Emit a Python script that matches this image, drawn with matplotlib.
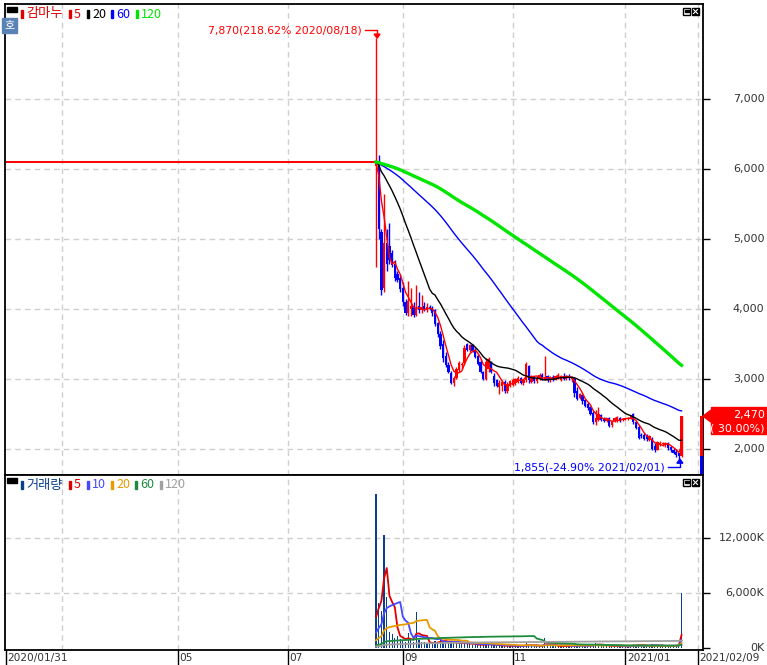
import numpy as np
import pandas as pd
import matplotlib
matplotlib.use("Agg")
import matplotlib.pyplot as plt
from matplotlib import font_manager
from matplotlib.patches import Rectangle, Polygon
from matplotlib.transforms import Affine2D, offset_copy
from matplotlib.lines import Line2D

# ---------------- data ----------------
stock_name = "감마누"
pre_days = 138            # trading days shown before listing (flat line)
pre_price = 6100          # flat price drawn before listing
opens = [6050, 6080, 5100, 4300, 4950, 4900, 4800, 4650, 4500, 4450,
         4300, 4100, 3950, 4000, 4050, 3920, 4050, 3980, 4050, 3990,
         4030, 4020, 3980, 3800, 3650, 3500, 3330, 3200, 3090, 2940,
         3020, 3130, 3200, 3230, 3500, 3420, 3480, 3420, 3330, 3250,
         3100, 3000, 3150, 3250, 3050, 2980, 2880, 2900, 2960, 2830,
         2900, 2920, 2950, 2960, 3010, 2950, 2980, 3180, 2960, 3030,
         2970, 3000, 3060, 2990, 3040, 2980, 3030, 2990, 3020, 2990,
         3050, 3000, 3050, 3000, 3020, 2830, 2730, 2770, 2700, 2650,
         2600, 2520, 2380, 2420, 2490, 2430, 2400, 2440, 2340, 2400,
         2400, 2450, 2410, 2420, 2430, 2440, 2500, 2380, 2320, 2200,
         2200, 2180, 2130, 2150, 2050, 1990, 2060, 2070, 2060, 2090,
         2030, 1990, 1960, 1940, 1900]
highs = [7870, 6200, 5150, 5650, 5150, 5230, 4850, 4700, 4550, 4500,
         4380, 4150, 4400, 4300, 4100, 4350, 4250, 4200, 4100, 4080,
         4060, 4050, 4000, 3820, 3680, 3560, 3380, 3250, 3120, 3050,
         3170, 3260, 3250, 3480, 3520, 3500, 3500, 3450, 3360, 3280,
         3120, 3300, 3320, 3260, 3080, 3000, 2980, 2990, 2980, 2960,
         2990, 3010, 3020, 3040, 3030, 3000, 3250, 3200, 3060, 3050,
         3040, 3080, 3080, 3330, 3060, 3050, 3060, 3060, 3080, 3060,
         3080, 3060, 3070, 3050, 3030, 2880, 2800, 2790, 2720, 2670,
         2620, 2540, 2560, 2600, 2500, 2460, 2450, 2460, 2420, 2460,
         2470, 2460, 2440, 2450, 2460, 2480, 2520, 2400, 2340, 2230,
         2230, 2210, 2200, 2170, 2080, 2120, 2110, 2100, 2100, 2100,
         2040, 2020, 2000, 1950, 2470]
lows = [4600, 5000, 4200, 4250, 4550, 4650, 4600, 4400, 4380, 4250,
        4050, 3920, 3900, 3900, 3880, 3900, 3950, 3950, 3970, 3960,
        3980, 3900, 3760, 3600, 3430, 3250, 3170, 3080, 2930, 2900,
        3000, 3100, 3150, 3200, 3400, 3380, 3380, 3300, 3200, 3080,
        2980, 2990, 3100, 3080, 2900, 2880, 2780, 2830, 2800, 2800,
        2880, 2900, 2920, 2940, 2930, 2920, 2960, 2950, 2940, 2950,
        2950, 2980, 2980, 2980, 2960, 2960, 2970, 2980, 3000, 2970,
        2980, 2980, 2990, 2960, 2750, 2700, 2710, 2650, 2600, 2560,
        2480, 2360, 2350, 2400, 2400, 2380, 2390, 2310, 2320, 2380,
        2390, 2390, 2400, 2410, 2420, 2430, 2360, 2280, 2140, 2160,
        2130, 2120, 2120, 1980, 1960, 1980, 2040, 2050, 2030, 1990,
        1960, 1930, 1890, 1855, 1890]
closes = [6110, 5150, 4270, 4950, 4650, 4700, 4630, 4450, 4420, 4280,
          4100, 3950, 4120, 4050, 3920, 4010, 3980, 4030, 4000, 4030,
          4000, 3950, 3780, 3650, 3470, 3300, 3200, 3100, 2950, 3020,
          3150, 3230, 3220, 3450, 3420, 3480, 3400, 3320, 3220, 3100,
          3000, 3250, 3280, 3100, 2950, 2900, 2950, 2960, 2830, 2930,
          2970, 2990, 3000, 3010, 2950, 2990, 3220, 2980, 3030, 2970,
          3020, 3060, 3000, 3030, 2980, 3030, 2990, 3050, 3060, 3040,
          3000, 3050, 3010, 3030, 2800, 2720, 2780, 2680, 2620, 2580,
          2500, 2380, 2450, 2500, 2420, 2400, 2430, 2330, 2400, 2440,
          2460, 2410, 2430, 2440, 2450, 2470, 2380, 2300, 2160, 2180,
          2150, 2140, 2180, 2000, 1980, 2100, 2090, 2080, 2090, 2010,
          1980, 1950, 1910, 1900, 2470]
volumes_k = [16800, 4900, 4000, 12300, 5600, 1700, 1500, 1100, 1300, 1000,
             800, 600, 1600, 900, 700, 3900, 900, 700, 600, 500,
             450, 500, 800, 700, 900, 800, 600, 500, 700, 600,
             500, 450, 400, 700, 500, 400, 350, 300, 350, 400,
             350, 500, 400, 300, 300, 250, 300, 250, 200, 250,
             200, 250, 200, 200, 250, 200, 600, 300, 200, 200,
             200, 250, 200, 1100, 300, 200, 200, 200, 250, 200,
             200, 200, 200, 200, 400, 300, 200, 250, 250, 250,
             300, 400, 500, 400, 250, 200, 250, 250, 200, 200,
             200, 200, 150, 150, 200, 200, 400, 350, 400, 250,
             200, 200, 200, 400, 300, 250, 200, 200, 150, 250,
             250, 200, 300, 400, 6000]
price_ma_windows = [5, 20, 60, 120]
price_ma_colors = ["#ff0000", "#000000", "#0000ff", "#00e600"]
vol_ma_windows = [5, 10, 20, 60, 120]
vol_ma_colors = ["#e00000", "#4848ff", "#e89a00", "#1e8c3c", "#a0a0a0"]
price_ticks = [2000, 3000, 4000, 5000, 6000, 7000]
vol_ticks = [0, 6000, 12000]
x_tick_pos = [0, 64, 105, 148, 189, 231, 258]
x_tick_labels = ["2020/01/31", "05", "07", "09", "11", "2021/01", "2021/02/09"]
x_grid_pos = [21, 64, 105, 148, 189, 231, 258]
current_price = 2470
current_change = "( 30.00%)"
prev_close = 1900
high_label = "7,870(218.62% 2020/08/18)"
low_label = "1,855(-24.90% 2021/02/01)"

# ---------------- fonts ----------------
NUM = "DejaVu Sans"
KR = ["Noto Sans CJK KR", "DejaVu Sans"]

W, H = 767, 665
fig = plt.figure(figsize=(W / 100, H / 100), dpi=100)
pix = Affine2D().scale(1, -1).translate(0, H).scale(1 / W, 1 / H) + fig.transFigure

L, R = 5, 703
TOP, MID, BOT = 4, 475, 650
axp = fig.add_axes([L / W, 1 - MID / H, (R - L) / W, (MID - TOP) / H])
axv = fig.add_axes([L / W, 1 - BOT / H, (R - L) / W, (BOT - MID) / H], sharex=axp)

n = len(closes)
idx = np.arange(pre_days, pre_days + n)
close_full = pd.Series(np.concatenate([np.full(pre_days, pre_price), closes]))
vol_full = pd.Series(np.concatenate([np.zeros(pre_days), volumes_k]))

grid_kw = dict(color="#cfcfcf", lw=1, ls=(0, (4, 3)), zorder=0)
for ax in (axp, axv):
    for g in x_grid_pos:
        ax.axvline(g, **grid_kw)
for t in price_ticks:
    axp.axhline(t, **grid_kw)
for t in vol_ticks[1:]:
    axv.axhline(t, **grid_kw)

# flat pre-listing line
axp.plot([0, pre_days], [pre_price, pre_price], color="#ff0000", lw=1.4, zorder=2)

# candles
o = np.array(opens); h = np.array(highs); lo = np.array(lows); c = np.array(closes)
up = c >= o
cols = np.where(up, "#ff0000", "#0000ff")
axp.vlines(idx, lo, h, colors=cols, lw=1.0, zorder=3)
body_bot = np.minimum(o, c)
body_h = np.maximum(np.abs(c - o), 12)
axp.bar(idx, body_h, bottom=body_bot, width=0.85, color=cols, linewidth=0, zorder=3)

# price moving averages
for w, col in zip(price_ma_windows, price_ma_colors):
    ma = close_full.rolling(w, min_periods=1).mean().values[pre_days:]
    axp.plot(idx, ma, color=col, lw=2.4 if w == 120 else 1.0, zorder=4)

# current-price bar on the right edge
xbar = 259.5
axp.bar([xbar], [current_price - prev_close], bottom=prev_close, width=1.1,
        color="#ff0000", linewidth=0, zorder=5, clip_on=False)
axp.bar([xbar], [prev_close - 1500], bottom=1500, width=1.1,
        color="#0000ff", linewidth=0, zorder=5)

axp.set_xlim(-0.45, 260.0)
axp.set_ylim(1629, 8357)

# volume
axv.bar(idx, volumes_k, width=0.45, color="#0a3f8c", linewidth=0, zorder=3)
for w, col in zip(vol_ma_windows, vol_ma_colors):
    ma = vol_full.rolling(w, min_periods=1).mean().values[pre_days:]
    axv.plot(idx, ma, color=col, lw=1.3, zorder=4)
axv.set_ylim(-220, 18870)

# spines / ticks
for ax in (axp, axv):
    for s in ax.spines.values():
        s.set_linewidth(1.3)
        s.set_color("black")
    ax.yaxis.tick_right()
    ax.tick_params(axis="y", length=5, width=1, direction="out", labelright=False, labelleft=False)
axp.set_yticks(price_ticks)
axv.set_yticks(vol_ticks)
axp.tick_params(axis="x", length=0, labelbottom=False)
axv.set_xticks(x_tick_pos)
axv.tick_params(axis="x", length=14, width=1, direction="out", labelbottom=False)

tick_col = "#333333"
for t in price_ticks:
    axp.text(1.088, t, f"{t:,}", transform=axp.get_yaxis_transform(), ha="right",
             va="center", fontsize=8, color=tick_col, family=NUM)
for t in vol_ticks:
    axv.text(1.088, t, f"{t:,}K", transform=axv.get_yaxis_transform(), ha="right",
             va="center", fontsize=8, color=tick_col, family=NUM)
xtr = offset_copy(axv.get_xaxis_transform(), fig, x=1.5, y=0, units="dots")
for p, lab in zip(x_tick_pos, x_tick_labels):
    axv.text(p, -0.046, lab, transform=xtr, ha="left", va="center",
             fontsize=7.6, color=tick_col, family=NUM)

# high / low annotations
ih = pre_days + int(np.argmax(h))
il = pre_days + int(np.argmin(lo))
tr_hi = offset_copy(axp.transData, fig, x=-14, y=8, units="dots")
axp.text(ih, h.max(), high_label, transform=tr_hi, ha="right", va="center",
         color="#ff0000", fontsize=7.8, family=NUM)

fig.canvas.draw()
inv = fig.transFigure.inverted()
def dline(ax, xd, yd, pts, col):
    base = ax.transData.transform((xd, yd))
    xs = [base[0] + a for a, b in pts]
    ys = [base[1] + b for a, b in pts]
    fp = inv.transform(np.column_stack([xs, ys]))
    fig.add_artist(Line2D(fp[:, 0], fp[:, 1], color=col, lw=1, transform=fig.transFigure))
    return base

b = dline(axp, ih, h.max(), [(-11, 8), (1, 8), (1, 1)], "#ff0000")
tri = inv.transform([(b[0] - 2, b[1] + 4), (b[0] + 4, b[1] + 4), (b[0] + 1, b[1])])
fig.add_artist(Polygon(tri, closed=True, color="#ff0000", transform=fig.transFigure))

tr_lo = offset_copy(axp.transData, fig, x=-14, y=-8, units="dots")
axp.text(il, lo.min(), low_label, transform=tr_lo, ha="right", va="center",
         color="#0000ff", fontsize=7.8, family=NUM)
b2 = dline(axp, il, lo.min(), [(-11, -8), (1, -8), (1, -1)], "#0000ff")
tri2 = inv.transform([(b2[0] - 2, b2[1] - 4), (b2[0] + 4, b2[1] - 4), (b2[0] + 1, b2[1])])
fig.add_artist(Polygon(tri2, closed=True, color="#0000ff", transform=fig.transFigure))

# current price label box
yc = H - axp.transData.transform((0, current_price))[1]
fig.add_artist(Polygon([(703, yc), (711, yc - 6), (711, yc + 6)], closed=True,
                       color="#ff0000", transform=pix))
fig.add_artist(Rectangle((711, yc - 9), 56, 27, color="#ff0000", transform=pix))
fig.text(765 / W, 1 - (yc - 1) / H, f"{current_price:,}", ha="right", va="center",
         color="white", fontsize=8, family=NUM)
fig.text(765 / W, 1 - (yc + 12) / H, current_change, ha="right", va="center",
         color="white", fontsize=8, family=NUM)

# legends
def legend(y, items, name, name_col):
    fig.add_artist(Rectangle((7, y - 7), 10, 5, color="black", transform=pix))
    x = 21
    fig.add_artist(Rectangle((x, y - 4), 2, 8, color=name_col, transform=pix))
    fig.text((x + 5) / W, 1 - y / H, name, ha="left", va="center", color=name_col,
             fontsize=9.5, family=KR)
    for lab, col, px in items:
        fig.add_artist(Rectangle((px, y - 4), 2, 8, color=col, transform=pix))
        fig.text((px + 5) / W, 1 - y / H, lab, ha="left", va="center", color=col,
                 fontsize=9, family=KR)

legend(14, [(str(w), col, px) for w, col, px in
            zip(price_ma_windows, ["#e00000", "#000000", "#0000ff", "#00e600"], [69, 87, 111, 136])],
       stock_name, "#e00000")
legend(485, [(str(w), col, px) for w, col, px in
             zip(vol_ma_windows, vol_ma_colors, [69, 87, 111, 135, 160])],
       "거래량", "#0a3f8c")

# "호" badge
fig.add_artist(Rectangle((2, 18), 15, 15, color="#5a82b4", transform=pix))
fig.text(9.5 / W, 1 - 25.5 / H, "호", ha="center", va="center", color="white",
         fontsize=8, family=KR)

# window icons
for yy in (8, 479):
    fig.add_artist(Rectangle((683, yy), 7, 7, facecolor="white", edgecolor="black",
                             lw=1, transform=pix))
    fig.add_artist(Rectangle((684.5, yy + 1.5), 4, 2, color="black", transform=pix))
    fig.add_artist(Rectangle((692, yy), 7, 7, color="black", transform=pix))
    fig.add_artist(Line2D([693.5, 697.5], [yy + 1.5, yy + 5.5], color="white", lw=0.8, transform=pix))
    fig.add_artist(Line2D([693.5, 697.5], [yy + 5.5, yy + 1.5], color="white", lw=0.8, transform=pix))

fig.savefig("out.png", dpi=100)
